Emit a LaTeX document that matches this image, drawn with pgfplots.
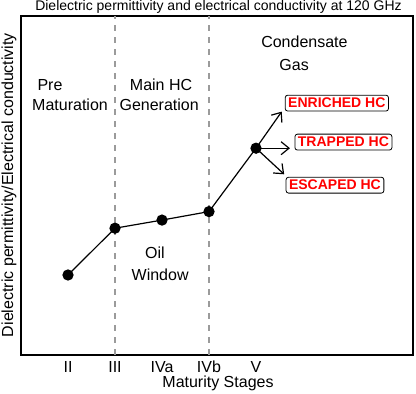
\documentclass[border=0pt]{standalone}
\usepackage{pgfplots}
\pgfplotsset{compat=1.18}
\usepackage{fontspec}
\setmainfont{Liberation Sans}
\usetikzlibrary{arrows.meta}
\definecolor{dashgray}{RGB}{155,155,155}
\newcommand{\fs}{\fontsize{16}{19}\selectfont}
\begin{document}
\begin{tikzpicture}[x=1pt,y=1pt]
\begin{axis}[
  at={(21pt,39pt)}, anchor=south west,
  scale only axis, width=392pt, height=339pt,
  xmin=0, xmax=8.34, ymin=0, ymax=10,
  axis line style={line width=1.4pt},
  xtick={1,2,3,4,5}, xticklabels={II,III,IVa,IVb,V},
  ytick=\empty,
  major tick length=0pt,
  xticklabel style={font=\fs, anchor=center, yshift=-12pt},
  clip=false,
]
\addplot[black, line width=1.2pt, mark=*, mark size=5pt, mark options={fill=black}]
  coordinates {(1,2.36) (2,3.74) (3,3.98) (4,4.23) (5,6.10)};
\draw[dashgray, line width=2pt, dash pattern=on 6pt off 6pt] (axis cs:2,0) -- (axis cs:2,10);
\draw[dashgray, line width=2pt, dash pattern=on 6pt off 6pt] (axis cs:4,0) -- (axis cs:4,10);
\draw[line width=1.2pt, -{Straight Barb[length=8pt,width=13pt,line width=1.2pt]}] (axis cs:5,6.10) -- (axis cs:5.547,7.18);
\draw[line width=1.2pt, -{Straight Barb[length=8pt,width=13pt,line width=1.2pt]}] (axis cs:5,6.10) -- (axis cs:5.723,6.10);
\draw[line width=1.2pt, -{Straight Barb[length=8pt,width=13pt,line width=1.2pt]}] (axis cs:5,6.10) -- (axis cs:5.60,5.33);
\tikzset{hcbox/.style={draw=black, line width=0.8pt, rounded corners=2.5pt, fill=white, text=red, font=\fontsize{14}{16}\selectfont\bfseries, inner xsep=3pt, inner ysep=3pt}}
\node[hcbox] at (axis cs:6.72,7.43) {ENRICHED HC};
\node[hcbox] at (axis cs:6.86,6.28) {TRAPPED HC};
\node[hcbox] at (axis cs:6.68,5.01) {ESCAPED HC};
\node[font=\fs] at (axis cs:0.617,7.96) {Pre};
\node[font=\fs] at (axis cs:1.043,7.37) {Maturation};
\node[font=\fs] at (axis cs:2.98,7.96) {Main HC};
\node[font=\fs] at (axis cs:2.94,7.37) {Generation};
\node[font=\fs] at (axis cs:2.85,3.01) {Oil};
\node[font=\fs] at (axis cs:2.96,2.36) {Window};
\node[font=\fs] at (axis cs:6.03,9.23) {Condensate};
\node[font=\fs] at (axis cs:5.81,8.55) {Gas};
\end{axis}
\node[font=\fontsize{14}{16}\selectfont] at (218.5,387) {Dielectric permittivity and electrical conductivity at 120 GHz};
\node[font=\fs, rotate=90] at (9,209) {Dielectric permittivity/Electrical conductivity};
\node[font=\fs] at (218,11) {Maturity Stages};
\pgfresetboundingbox
\path[use as bounding box] (0,0) rectangle (416,394);
\end{tikzpicture}
\end{document}
